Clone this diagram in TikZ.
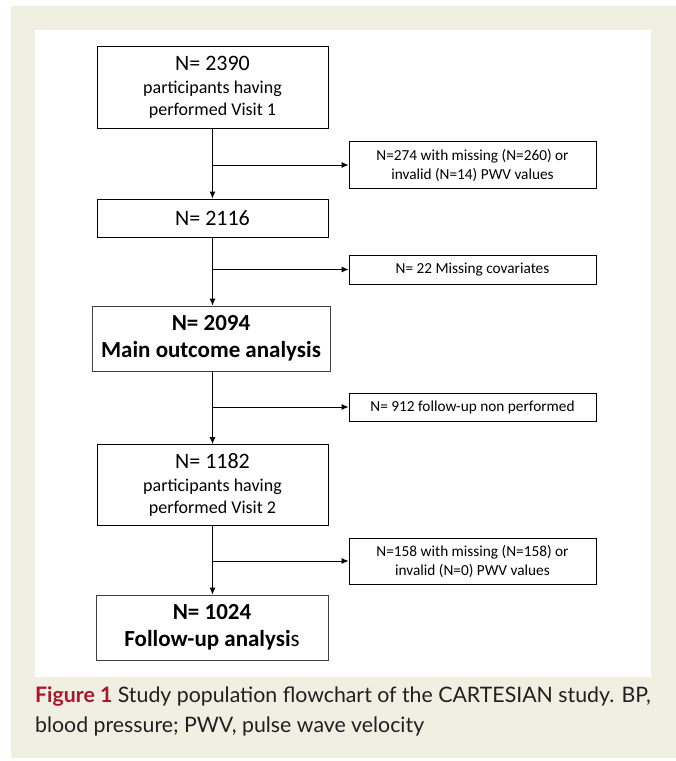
\documentclass[tikz,border=0pt]{standalone}
\usepackage{fontspec}
\setmainfont{Carlito}
\newfontfamily\capfont{Lato}
\usetikzlibrary{arrows.meta}
\definecolor{panel}{RGB}{239,239,226}
\definecolor{figred}{RGB}{172,22,44}
\definecolor{capgray}{RGB}{35,31,32}
\tikzset{
	mainbox/.style={draw=black, line width=0.9pt, minimum width=231pt, inner sep=0pt, align=center, font=\fontsize{18}{22}\selectfont},
	boldbox/.style={draw=black!75, line width=0.9pt, minimum height=65pt, inner sep=0pt, align=center, font=\bfseries\fontsize{23}{27}\selectfont},
	sidebox/.style={draw=black, line width=0.9pt, minimum width=247pt, inner sep=0pt, align=center, font=\fontsize{15.3}{19}\selectfont},
	flow/.style={line width=0.9pt, -{Latex[length=7pt,width=6pt]}},
	captext/.style={anchor=base west, inner sep=0pt, text=capgray, font=\capfont\fontsize{21.3}{30}\selectfont}
}
\newcommand{\bignum}[1]{{\fontsize{22}{26}\selectfont #1}}

\begin{document}
\begin{tikzpicture}[x=1pt, y=-1pt]
	\useasboundingbox (0,0) rectangle (676,761);
	% panel and white field
	\fill[panel] (11,6) rectangle (676,758);
	\fill[white] (35,30) rectangle (651,677);

	% main column
	\node[mainbox, minimum height=82pt] (visit1) at (212.5,87) {\bignum{N= 2390}\\[1pt] participants having\\ performed Visit 1};
	\node[mainbox, minimum height=38pt] (valid) at (212.5,218) {\bignum{N= 2116}};
	\node[boldbox, minimum width=238pt] (mainout) at (211,338.5) {N= 2094\\ Main outcome analysis};
	\node[mainbox, minimum height=81pt] (visit2) at (212.5,485) {\bignum{N= 1182}\\[1pt] participants having\\ performed Visit 2};
	\node[boldbox, minimum width=232pt] (followup) at (212,627.5) {N= 1024\\ Follow-up analysi{\mdseries s}};

	% excluded boxes
	\node[sidebox, minimum height=47pt] (excl1) at (472.5,165) {N=274 with missing (N=260) or\\ invalid (N=14) PWV values};
	\node[sidebox, minimum height=29pt] (excl2) at (472.5,269.5) {N= 22 Missing covariates};
	\node[sidebox, minimum height=28pt] (excl3) at (472.5,407) {N= 912 follow-up non performed};
	\node[sidebox, minimum height=46pt] (excl4) at (472.5,561) {N=158 with missing (N=158) or\\ invalid (N=0) PWV values};

	% arrows
	\draw[flow] (visit1) -- (valid);
	\draw[flow] (valid) -- (mainout.north -| valid.south);
	\draw[flow] (mainout.south -| valid.south) -- (visit2);
	\draw[flow] (visit2) -- (followup.north -| visit2.south);
	\draw[flow] (visit1.south |- excl1.west) -- (excl1.west);
	\draw[flow] (valid.south |- excl2.west) -- (excl2.west);
	\draw[flow] (visit2.north |- excl3.west) -- (excl3.west);
	\draw[flow] (visit2.south |- excl4.west) -- (excl4.west);

	% caption
	\node[captext] (cap1) at (35,702) {\textcolor{figred}{\bfseries Figure 1} Study population flowchart of the CARTESIAN study. BP,};
	\node[captext] (cap2) at (35,732) {blood pressure; PWV, pulse wave velocity};
\end{tikzpicture}
\end{document}
